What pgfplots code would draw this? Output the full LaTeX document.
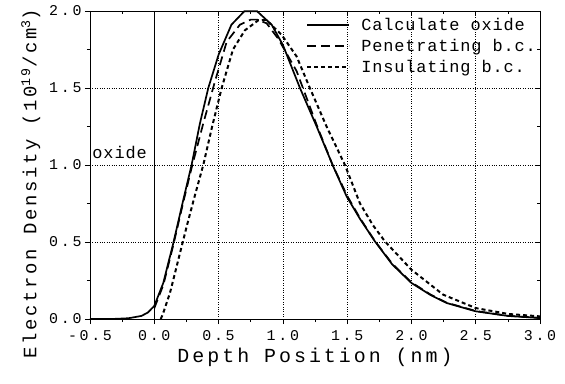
\documentclass[border=0pt]{standalone}
\usepackage{fontspec}
\setmainfont{Liberation Mono}
\newfontfamily\tickfont[LetterSpace=18]{Liberation Mono}
\newfontfamily\labfont[LetterSpace=15]{Liberation Mono}
\newfontfamily\ylabfont[LetterSpace=14]{Liberation Mono}
\newfontfamily\legfont[LetterSpace=5]{Liberation Mono}
\usepackage{pgfplots}
\pgfplotsset{compat=1.18}
\begin{document}
\begin{tikzpicture}
\pgfplotsset{
  common/.style={
    scale only axis, width=450bp, height=308bp,
    xmin=-0.5, xmax=3.0, ymin=0, ymax=2.0,
    xtick={-0.5,0,0.5,1,1.5,2,2.5,3},
    ytick={0,0.5,1,1.5,2},
    minor x tick num=1, minor y tick num=1,
    major tick length=5bp, minor tick length=3bp,
    axis line style={line width=0.8bp},
    every tick/.style={black, line width=0.6bp},
  }
}
\begin{axis}[common,
  tick align=outside,
  xtick pos=left, ytick pos=left,
  xticklabels={-0.5,0.0,0.5,1.0,1.5,2.0,2.5,3.0},
  yticklabels={0.0,0.5,1.0,1.5,2.0},
  ticklabel style={font=\tickfont\fontsize{15}{15}\selectfont},
  xticklabel style={yshift=-3bp},
  grid=major,
  major grid style={dotted, black, line width=0.5bp},
  xlabel={\labfont\fontsize{20}{20}\selectfont Depth Position (nm)},
  ylabel={\ylabfont\fontsize{19}{19}\selectfont Electron Density (10\textsuperscript{19}/cm\textsuperscript{3})},
  xlabel style={yshift=-1bp},
  ylabel style={at={(ticklabel cs:0.44)}, yshift=2bp},
  legend style={at={(0.476,0.99)}, anchor=north west, draw=none, fill=none,
    font=\legfont\fontsize{17}{17}\selectfont, row sep=3bp,
    inner sep=2bp},
  legend cell align=left,
  legend image code/.code={\draw[#1] (0bp,0bp) -- (42bp,0bp); \path (51bp,0bp);},
]
\draw[black, line width=0.6bp] (axis cs:0,0) -- (axis cs:0,2);
\addplot[black, line width=1.7bp] coordinates {
(-0.5,0) (-0.3,0.001) (-0.2,0.005) (-0.1,0.02) (-0.05,0.042) (0,0.085)
(0.07,0.234) (0.148,0.493) (0.226,0.775) (0.29,1.0) (0.355,1.27) (0.42,1.5)
(0.5,1.716) (0.6,1.911) (0.7,1.998) (0.8,1.998) (0.913,1.911) (1.0,1.78)
(1.133,1.5) (1.263,1.25) (1.387,1.0) (1.496,0.796) (1.6,0.65) (1.716,0.504)
(1.85,0.355) (2.0,0.234) (2.15,0.155) (2.274,0.104) (2.5,0.05) (2.75,0.02) (3.0,0.006)
};
\addlegendentry{Calculate oxide}
\addplot[black, line width=1.7bp, dash pattern=on 9bp off 5bp] coordinates {
(0,0.07) (0.07,0.22) (0.148,0.48) (0.226,0.76) (0.29,0.98) (0.381,1.27)
(0.472,1.543) (0.563,1.80) (0.666,1.911) (0.75,1.944) (0.8,1.944) (0.874,1.92)
(0.964,1.82) (1.107,1.61) (1.263,1.26) (1.387,1.0) (1.5,0.8) (1.6,0.655) (1.716,0.506)
(1.85,0.36) (2.0,0.238) (2.15,0.158) (2.274,0.106) (2.5,0.052) (2.75,0.021) (3.0,0.007)
};
\addlegendentry{Penetrating b.c.}
\addplot[black, line width=2bp, dash pattern=on 4bp off 3bp] coordinates {
(0.05,0.0) (0.065,0.028) (0.122,0.169) (0.187,0.385) (0.252,0.601) (0.315,0.8)
(0.381,1.0) (0.45,1.25) (0.524,1.5) (0.612,1.75) (0.705,1.875) (0.81,1.94)
(0.87,1.942) (0.99,1.846) (1.107,1.705) (1.21,1.5) (1.34,1.25) (1.483,1.0)
(1.6,0.75) (1.7,0.61) (1.794,0.504) (2.0,0.32) (2.247,0.158) (2.5,0.071)
(2.75,0.033) (3.0,0.017)
};
\addlegendentry{Insulating b.c.}
\node[anchor=west, font=\legfont\fontsize{17}{17}\selectfont, inner sep=1bp] at (axis cs:-0.49,1.08) {oxide};
\coordinate (sw) at (rel axis cs:0,0);
\coordinate (ne) at (rel axis cs:1,1);
\end{axis}
\begin{axis}[common,
  tick align=inside,
  xtick pos=right, ytick pos=right,
  xticklabels={}, yticklabels={},
  axis line style={draw=none},
]
\end{axis}
\pgfresetboundingbox
\path[use as bounding box] ([xshift=-90bp,yshift=-65bp]sw) rectangle ([xshift=25bp,yshift=11bp]ne);
\end{tikzpicture}
\end{document}
